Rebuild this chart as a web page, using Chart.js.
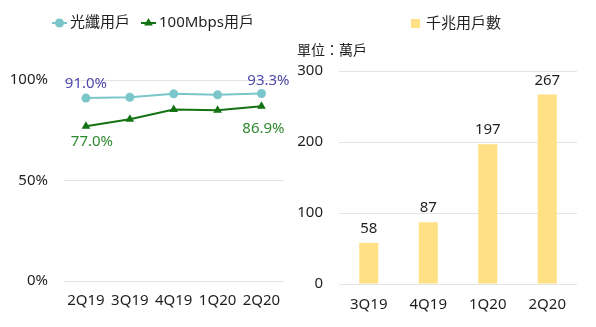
<!DOCTYPE html>
<html>
<head>
<meta charset="utf-8">
<script src="https://cdn.jsdelivr.net/npm/chart.js@4.4.1/dist/chart.umd.min.js"></script>
<style>
  html, body { margin: 0; padding: 0; background: #fff; }
  #wrap { position: relative; width: 596px; height: 327px; }
  .box { position: absolute; top: 0; height: 327px; }
</style>
</head>
<body>
<div id="wrap">
  <div class="box" style="left:0;width:292px"><canvas id="lineChart"></canvas></div>
  <div class="box" style="left:290px;width:306px"><canvas id="barChart"></canvas></div>
</div>
<script>
// 資料
const lineQuarters = ['2Q19', '3Q19', '4Q19', '1Q20', '2Q20'];
const fiberShare = [91.0, 91.4, 93.1, 92.6, 93.3];
const mbpsShare = [77.0, 80.5, 85.3, 85.0, 86.9];
const percentTicks = [0, 50, 100];

const barQuarters = ['3Q19', '4Q19', '1Q20', '2Q20'];
const gigaUsers = [58, 87, 197, 267];
const countTicks = [0, 100, 200, 300];

const FONT = "'Noto Sans', 'Noto Sans CJK TC', sans-serif";
const TEXT = '#1f1f1f';
Chart.defaults.font.family = FONT;
Chart.defaults.font.size = 15;
Chart.defaults.color = TEXT;

// 圖例 (線 + 標記 / 方塊)
const legendPlugin = {
  id: 'customLegend',
  afterDraw(chart, args, opts) {
    const ctx = chart.ctx;
    ctx.save();
    ctx.font = opts.font;
    ctx.textBaseline = 'middle';
    ctx.fillStyle = TEXT;
    chart.data.datasets.forEach((ds, i) => {
      const it = opts.items[i];
      const color = ds.borderColor || ds.backgroundColor;
      if (it.type === 'box') {
        ctx.fillStyle = ds.backgroundColor;
        ctx.fillRect(it.x, it.y - 5, 9, 9);
        ctx.fillStyle = TEXT;
        ctx.fillText(ds.label, it.x + 15, it.y);
        return;
      }
      ctx.strokeStyle = color;
      ctx.lineWidth = 2;
      ctx.beginPath();
      ctx.moveTo(it.x, it.y);
      ctx.lineTo(it.x + 15, it.y);
      ctx.stroke();
      ctx.fillStyle = color;
      Chart.helpers.drawPoint(ctx, { pointStyle: ds.pointStyle, radius: ds.pointRadius, borderWidth: 0 }, it.x + 7.5, it.y);
      ctx.fillStyle = TEXT;
      ctx.fillText(ds.label, it.x + 18, it.y);
    });
    if (opts.unit) {
      ctx.font = opts.unit.font;
      ctx.fillText(opts.unit.text, opts.unit.x, opts.unit.y);
    }
    ctx.restore();
  }
};

// 資料標籤
const labelPlugin = {
  id: 'valueLabels',
  afterDatasetsDraw(chart, args, opts) {
    const ctx = chart.ctx;
    ctx.save();
    ctx.font = opts.font;
    ctx.textAlign = 'center';
    ctx.textBaseline = 'middle';
    opts.items.forEach(it => {
      const el = chart.getDatasetMeta(it.ds).data[it.idx];
      const v = chart.data.datasets[it.ds].data[it.idx];
      ctx.fillStyle = it.color;
      ctx.fillText(opts.format(v), el.x + (it.dx || 0), el.y + it.dy);
    });
    ctx.restore();
  }
};

const gridColor = '#e4e4e4';

new Chart(document.getElementById('lineChart'), {
  type: 'line',
  data: {
    labels: lineQuarters,
    datasets: [
      {
        label: '光纖用戶', data: fiberShare,
        borderColor: '#7BC6CA', backgroundColor: '#7BC6CA',
        borderWidth: 2, pointStyle: 'circle', pointRadius: 4.5, pointBorderWidth: 0
      },
      {
        label: '100Mbps用戶', data: mbpsShare,
        borderColor: '#137313', backgroundColor: '#137313',
        borderWidth: 2, pointStyle: 'triangle', pointRadius: 5, pointBorderWidth: 0
      }
    ]
  },
  options: {
    responsive: true,
    maintainAspectRatio: false,
    animation: false,
    layout: { padding: { left: 0, right: 8, top: 80, bottom: 0 } },
    plugins: {
      legend: { display: false },
      tooltip: { enabled: false },
      customLegend: {
        font: '15px ' + FONT,
        items: [{ x: 52, y: 23 }, { x: 141, y: 23 }]
      },
      valueLabels: {
        font: '15px ' + FONT,
        format: v => v.toFixed(1) + '%',
        items: [
          { ds: 0, idx: 0, dy: -14, color: '#5048AC' },
          { ds: 0, idx: 4, dy: -13, dx: 7, color: '#5048AC' },
          { ds: 1, idx: 0, dy: 16, dx: 6, color: '#2E8A2E' },
          { ds: 1, idx: 4, dy: 22, dx: 2, color: '#2E8A2E' }
        ]
      }
    },
    scales: {
      x: {
        offset: true,
        grid: { display: false, drawTicks: false },
        border: { display: false },
        ticks: { padding: 11, maxRotation: 0 },
        afterFit: s => { s.height = 46; }
      },
      y: {
        min: 0, max: 100,
        afterBuildTicks: s => { s.ticks = percentTicks.map(v => ({ value: v })); },
        grid: { color: gridColor, drawTicks: false },
        border: { display: false },
        ticks: { padding: 16, callback: v => v + '%' },
        afterFit: s => { s.width = 64; }
      }
    }
  },
  plugins: [legendPlugin, labelPlugin]
});

new Chart(document.getElementById('barChart'), {
  type: 'bar',
  data: {
    labels: barQuarters,
    datasets: [
      {
        label: '千兆用戶數', data: gigaUsers,
        backgroundColor: '#FFE085',
        categoryPercentage: 1, barPercentage: 0.32
      }
    ]
  },
  options: {
    responsive: true,
    maintainAspectRatio: false,
    animation: false,
    layout: { padding: { left: 0, right: 19, top: 71, bottom: 0 } },
    plugins: {
      legend: { display: false },
      tooltip: { enabled: false },
      customLegend: {
        font: '15px ' + FONT,
        items: [{ type: 'box', x: 121, y: 24 }],
        unit: { text: '單位：萬戶', x: 7, y: 51, font: '14px ' + FONT }
      },
      valueLabels: {
        font: '15px ' + FONT,
        format: v => String(v),
        items: gigaUsers.map((v, i) => ({ ds: 0, idx: i, dy: -14, color: TEXT }))
      }
    },
    scales: {
      x: {
        grid: { display: false, drawTicks: false },
        border: { display: false },
        ticks: { padding: 12, maxRotation: 0 },
        afterFit: s => { s.height = 43; }
      },
      y: {
        min: 0, max: 300,
        afterBuildTicks: s => { s.ticks = countTicks.map(v => ({ value: v })); },
        grid: { color: gridColor, drawTicks: false },
        border: { display: false },
        ticks: { padding: 16 },
        afterFit: s => { s.width = 49; }
      }
    }
  },
  plugins: [legendPlugin, labelPlugin]
});
</script>
</body>
</html>
